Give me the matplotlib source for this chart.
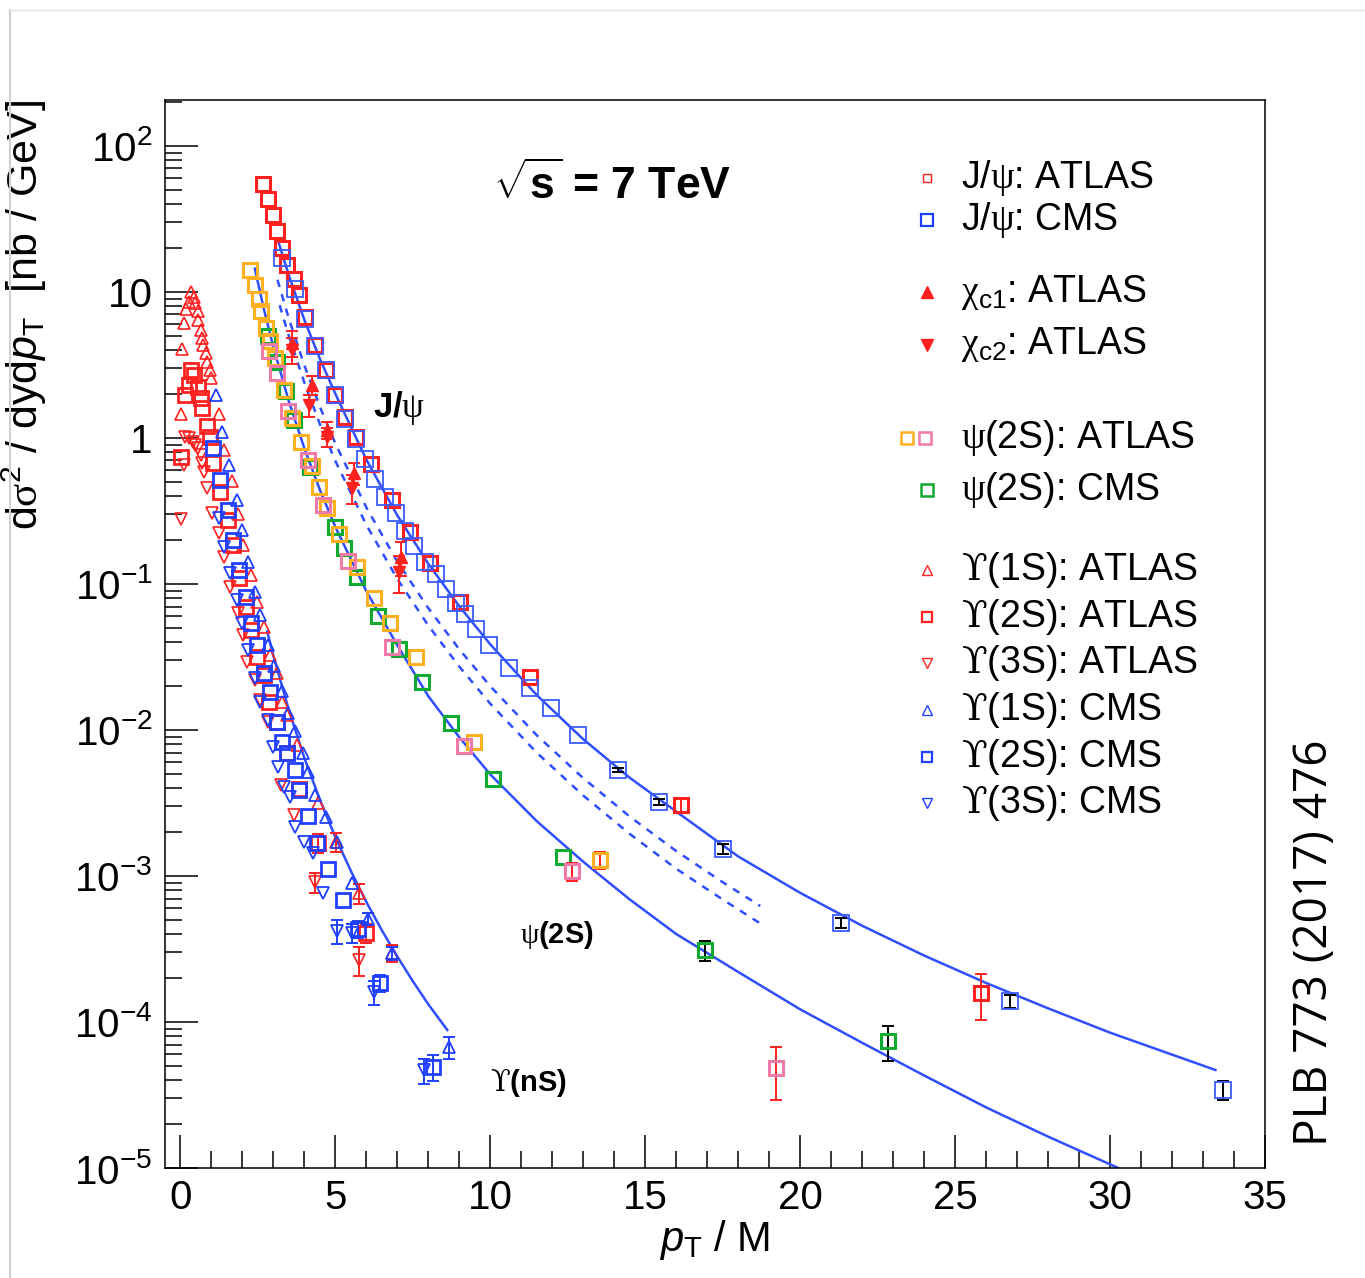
import numpy as np
import matplotlib
matplotlib.use("Agg")
import matplotlib.pyplot as plt
from matplotlib.ticker import FixedLocator, NullFormatter, FuncFormatter

plt.rcParams['font.family'] = ['Liberation Sans', 'DejaVu Sans']
plt.rcParams['mathtext.fontset'] = 'custom'
plt.rcParams['mathtext.rm'] = 'Liberation Sans'
plt.rcParams['mathtext.it'] = 'Liberation Sans:italic'
plt.rcParams['mathtext.bf'] = 'Liberation Sans:bold'
plt.rcParams['mathtext.sf'] = 'Liberation Serif'
plt.rcParams['mathtext.tt'] = 'DejaVu Serif'

# ---- data (x = pT/M, y = d2sigma/dy dpT [nb/GeV]) ----
jpsi_atlas_x = [2.65, 2.84, 3.00, 3.13, 3.29, 3.45, 3.65, 3.81, 4.03, 4.35, 4.68, 5.00, 5.32, 5.65, 6.16, 6.81, 7.42, 8.06, 9.03, 11.29, 16.16, 25.84]
jpsi_atlas_y = [55, 43.4, 33.7, 26.2, 20.0, 15.3, 12.3, 9.5, 6.7, 4.3, 2.9, 1.97, 1.39, 1.02, 0.66, 0.376, 0.227, 0.139, 0.075, 0.0231, 0.00306, 1.58e-4]
jpsi_atlas_err = [0]*20 + [3e-4, 5.5e-5]

jpsi_cms_x = [3.29, 3.71, 4.03, 4.35, 4.68, 5.00, 5.32, 5.65, 5.97, 6.29, 6.61, 6.97, 7.26, 7.55, 7.90, 8.23, 8.58, 8.90, 9.19, 9.55, 9.97, 10.61, 11.29, 11.97, 12.84, 14.13, 15.45, 17.52, 21.32, 26.77, 33.65]
jpsi_cms_y = [17.1, 10.5, 6.53, 4.27, 2.92, 1.97, 1.35, 0.984, 0.718, 0.524, 0.394, 0.306, 0.231, 0.182, 0.141, 0.117, 0.0924, 0.0741, 0.0623, 0.0492, 0.0382, 0.0266, 0.0194, 0.0142, 0.00924, 0.00532, 0.00321, 0.00153, 4.77e-4, 1.39e-4, 3.42e-5]
jpsi_cms_err = [0]*25 + [2e-4, 1.5e-4, 1.2e-4, 4e-5, 1.5e-5, 5e-6]

chic1_x = [3.61, 4.23, 4.74, 5.61, 7.13]
chic1_y = [4.48, 2.31, 1.13, 0.576, 0.153]
chic1_err = [0.9, 0.35, 0.15, 0.1, 0.04]
chic2_x = [3.61, 4.16, 4.74, 5.55, 7.06]
chic2_y = [4.01, 1.68, 1.02, 0.455, 0.121]
chic2_err = [0.8, 0.3, 0.15, 0.1, 0.035]

psi2s_atlas_a_x = [2.23, 2.39, 2.52, 2.61, 2.77, 2.90, 3.06, 3.35, 3.61, 3.90, 4.23, 4.48, 4.74, 5.13, 5.71, 6.23, 6.77, 7.61, 9.48, 13.55]
psi2s_atlas_a_y = [14.2, 11.2, 8.95, 7.41, 5.67, 4.62, 3.53, 2.13, 1.37, 0.939, 0.643, 0.462, 0.332, 0.220, 0.131, 0.0802, 0.0541, 0.0316, 0.00828, 1.29e-3]
psi2s_atlas_a_err = [0]*19 + [1.8e-4]
psi2s_atlas_b_x = [2.87, 3.13, 3.48, 4.10, 4.61, 5.39, 6.84, 9.16, 12.65, 19.23]
psi2s_atlas_b_y = [3.94, 2.79, 1.53, 0.707, 0.348, 0.144, 0.0370, 0.00777, 1.08e-3, 4.84e-5]
psi2s_atlas_b_err = [0]*8 + [1.5e-4, 1.9e-5]
psi2s_cms_x = [2.84, 3.13, 3.39, 3.65, 4.19, 5.00, 5.29, 5.71, 6.39, 7.06, 7.81, 8.74, 10.10, 12.35, 16.94, 22.84]
psi2s_cms_y = [5.0, 3.32, 2.10, 1.33, 0.633, 0.245, 0.176, 0.112, 0.0604, 0.0359, 0.0213, 0.0112, 0.00462, 0.00135, 3.11e-4, 7.41e-5]
psi2s_cms_err = [0]*14 + [5e-5, 2e-5]

ups1_atlas_x = [0.03, 0.06, 0.10, 0.19, 0.26, 0.35, 0.42, 0.48, 0.55, 0.58, 0.65, 0.71, 0.74, 0.81, 0.87, 0.94, 1.00, 1.23, 1.42, 1.65, 1.84, 2.03, 2.26, 2.48, 2.68, 2.90, 3.13, 3.29, 3.45, 3.77, 4.45, 5.03, 5.77, 6.84]
ups1_atlas_y = [1.46, 4.07, 6.13, 7.65, 8.55, 10.0, 9.24, 8.41, 7.41, 6.43, 5.49, 4.84, 4.34, 3.82, 3.32, 2.92, 2.58, 1.46, 0.828, 0.507, 0.302, 0.185, 0.115, 0.0753, 0.0507, 0.0327, 0.0246, 0.0156, 0.0127, 0.00789, 0.00316, 0.00171, 7.65e-4, 2.97e-4]
ups1_atlas_err = [0]*31 + [2.5e-4, 1.2e-4, 4e-5]
ups2_atlas_x = [0.03, 0.13, 0.26, 0.35, 0.42, 0.55, 0.65, 0.71, 0.87, 0.94, 1.06, 1.29, 1.52, 1.68, 1.90, 2.10, 2.29, 2.48, 2.68, 2.87, 3.10, 3.45, 3.81, 4.45, 6.00]
ups2_atlas_y = [0.741, 1.97, 2.31, 2.92, 2.70, 2.23, 1.88, 1.60, 1.21, 1.02, 0.674, 0.427, 0.274, 0.185, 0.110, 0.0695, 0.0484, 0.0316, 0.0238, 0.0156, 0.0113, 0.00696, 0.00394, 0.00168, 4.07e-4]
ups2_atlas_err = [0]*23 + [2.5e-4, 6e-5]
ups3_atlas_x = [0.03, 0.10, 0.16, 0.26, 0.39, 0.48, 0.55, 0.65, 0.71, 0.77, 0.87, 1.03, 1.23, 1.42, 1.61, 1.84, 2.03, 2.16, 2.42, 2.58, 2.84, 3.23, 3.65, 4.35, 5.77]
ups3_atlas_y = [0.279, 0.653, 1.02, 1.0, 0.939, 0.895, 0.854, 0.765, 0.674, 0.585, 0.455, 0.306, 0.224, 0.153, 0.0953, 0.0633, 0.0448, 0.0292, 0.022, 0.016, 0.0113, 0.0042, 0.00262, 9.1e-4, 2.66e-4]
ups3_atlas_err = [0]*23 + [1.4e-4, 6e-5]

ups1_cms_x = [1.13, 1.35, 1.55, 1.81, 2.00, 2.19, 2.42, 2.58, 2.81, 3.03, 3.29, 3.48, 3.68, 3.94, 4.13, 4.35, 4.71, 5.06, 5.55, 6.06, 6.84, 8.68]
ups1_cms_y = [1.97, 1.10, 0.653, 0.376, 0.234, 0.141, 0.0881, 0.0613, 0.0382, 0.0274, 0.0185, 0.0131, 0.00984, 0.00696, 0.00515, 0.00359, 0.00254, 0.00171, 8.96e-4, 5.08e-4, 2.97e-4, 6.74e-5]
ups1_cms_err = [0]*19 + [5e-5, 3e-5, 1.2e-5]
ups2_cms_x = [1.06, 1.29, 1.52, 1.68, 1.90, 2.10, 2.26, 2.48, 2.68, 2.90, 3.10, 3.29, 3.45, 3.71, 3.84, 4.13, 4.42, 4.77, 5.23, 5.74, 6.45, 8.16]
ups2_cms_y = [0.854, 0.515, 0.321, 0.200, 0.125, 0.0815, 0.0541, 0.0382, 0.0246, 0.0182, 0.0113, 0.00828, 0.00696, 0.00532, 0.00388, 0.00258, 0.00168, 0.00112, 6.85e-4, 4.34e-4, 1.85e-4, 4.92e-5]
ups2_cms_err = [0]*19 + [6e-5, 2.5e-5, 1e-5]
ups3_cms_x = [1.23, 1.42, 1.61, 1.81, 2.00, 2.19, 2.39, 2.58, 2.81, 3.00, 3.16, 3.35, 3.55, 3.71, 4.00, 4.29, 4.61, 5.06, 5.55, 6.23, 7.87]
ups3_cms_y = [0.283, 0.179, 0.119, 0.0777, 0.0541, 0.0353, 0.0227, 0.0156, 0.0117, 0.00765, 0.00558, 0.00407, 0.00348, 0.00217, 0.00171, 0.00144, 7.65e-4, 4.2e-4, 4.07e-4, 1.6e-4, 4.69e-5]
ups3_cms_err = [0]*17 + [8e-5, 6e-5, 3e-5, 9e-6]

# model curves
jpsi_curve_x = [3.16, 3.5, 4.0, 4.5, 5.0, 6.0, 7.0, 8.0, 9.0, 10.0, 11.5, 13.0, 14.5, 16.0, 18.0, 20.0, 22.0, 24.0, 26.0, 28.0, 30.0, 33.4]
jpsi_curve_y = [22.0, 12.9, 6.41, 3.47, 2.0, 0.708, 0.294, 0.137, 0.0702, 0.0385, 0.0173, 0.00863, 0.0047, 0.00276, 0.00136, 7.66e-4, 4.56e-4, 2.85e-4, 1.85e-4, 1.24e-4, 8.45e-5, 4.69e-5]
psi2s_curve_x = [2.4, 2.7, 3.0, 3.5, 4.0, 4.5, 5.0, 6.0, 7.0, 8.0, 9.0, 10.0, 11.5, 13.0, 14.5, 16.0, 18.0, 20.0, 22.0, 24.0, 26.0, 28.0, 30.5]
psi2s_curve_y = [14.4, 7.48, 4.17, 1.77, 0.845, 0.44, 0.245, 0.089, 0.0379, 0.017, 0.0089, 0.00495, 0.00237, 0.00125, 6.9e-4, 4.0e-4, 2.2e-4, 1.22e-4, 7.2e-5, 4.3e-5, 2.6e-5, 1.64e-5, 9.5e-6]
ups_curve_x = [2.8, 3.0, 3.5, 4.0, 4.5, 5.0, 5.5, 6.0, 6.5, 7.0, 7.5, 8.0, 8.61]
ups_curve_y = [0.0473, 0.0321, 0.0136, 0.00641, 0.00332, 0.00184, 0.00108, 6.62e-4, 4.24e-4, 2.8e-4, 1.9e-4, 1.32e-4, 8.81e-5]
chic1_curve_x = [3.13, 3.5, 4.0, 4.5, 5.0, 6.0, 7.0, 8.0, 9.0, 10.0, 11.5, 13.0, 14.5, 16.0, 17.5, 18.71]
chic1_curve_y = [12.1, 6.53, 3.13, 1.63, 0.912, 0.333, 0.142, 0.0681, 0.0356, 0.0199, 0.00918, 0.00467, 0.00255, 0.00148, 9.06e-4, 6.23e-4]
chic2_curve_x = [3.2, 3.5, 4.0, 4.5, 5.0, 6.0, 7.0, 8.0, 9.0, 10.0, 11.5, 13.0, 14.5, 16.0, 17.5, 18.71]
chic2_curve_y = [8.1, 4.96, 2.38, 1.24, 0.693, 0.253, 0.108, 0.0518, 0.0271, 0.0151, 0.00698, 0.00355, 0.00194, 0.00112, 6.89e-4, 4.73e-4]

x_major = [0, 5, 10, 15, 20, 25, 30, 35]
y_major = [1e-5, 1e-4, 1e-3, 1e-2, 1e-1, 1, 10, 100]

RED = '#ff2020'
BLUE = '#2040ff'
LBLUE = '#3a5cff'
ORANGE = '#ffb020'
PINK = '#f07aa8'
GREEN = '#10aa30'
CURVE = '#2f4fff'
UPS = r'$\mathtt{ϒ}$'

fig = plt.figure(figsize=(13.65, 12.78), dpi=100)
ax = fig.add_axes([165/1365, 1 - 1168/1278, 1100/1365, 1068/1278])
ax.set_yscale('log')
ax.set_xlim(-0.5, 35)
ax.set_ylim(1e-5, 206)


def draw(x, y, err, marker, color, ms, mew, ecolor, filled=False, z=3):
    x = np.array(x)
    y = np.array(y)
    err = np.array(err, dtype=float)
    m = err > 0
    if m.any():
        ax.errorbar(x[m], y[m], yerr=err[m], fmt='none', ecolor=ecolor,
                    elinewidth=1.4, capsize=4.5, capthick=1.4, zorder=z)
    ax.plot(x, y, ls='none', marker=marker, ms=ms, mec=color, mew=mew,
            mfc=color if filled else 'none', zorder=z + 0.1)


# curves
ax.plot(jpsi_curve_x, jpsi_curve_y, color=CURVE, lw=1.8, zorder=2)
ax.plot(psi2s_curve_x, psi2s_curve_y, color=CURVE, lw=1.8, zorder=2)
ax.plot(ups_curve_x, ups_curve_y, color=CURVE, lw=1.8, zorder=2)
ax.plot(chic1_curve_x, chic1_curve_y, color=CURVE, lw=1.8, ls=(0, (3, 3)), zorder=2)
ax.plot(chic2_curve_x, chic2_curve_y, color=CURVE, lw=1.8, ls=(0, (3, 3)), zorder=2)

# Upsilon
draw(ups1_atlas_x, ups1_atlas_y, ups1_atlas_err, '^', RED, 8, 1.2, RED)
draw(ups2_atlas_x, ups2_atlas_y, ups2_atlas_err, 's', RED, 9.5, 2.0, RED)
draw(ups3_atlas_x, ups3_atlas_y, ups3_atlas_err, 'v', RED, 8, 1.2, RED)
draw(ups1_cms_x, ups1_cms_y, ups1_cms_err, '^', BLUE, 8, 1.3, BLUE, z=4)
draw(ups2_cms_x, ups2_cms_y, ups2_cms_err, 's', BLUE, 9.5, 2.0, BLUE, z=4)
draw(ups3_cms_x, ups3_cms_y, ups3_cms_err, 'v', BLUE, 8, 1.3, BLUE, z=4)

# psi(2S)
draw(psi2s_cms_x, psi2s_cms_y, psi2s_cms_err, 's', GREEN, 10, 2.2, 'black')
draw(psi2s_atlas_a_x, psi2s_atlas_a_y, psi2s_atlas_a_err, 's', ORANGE, 10, 2.2, RED, z=4)
draw(psi2s_atlas_b_x, psi2s_atlas_b_y, psi2s_atlas_b_err, 's', PINK, 10, 2.2, RED, z=4)

# chi_c
draw(chic1_x, chic1_y, chic1_err, '^', RED, 9, 1, RED, filled=True)
draw(chic2_x, chic2_y, chic2_err, 'v', RED, 9, 1, RED, filled=True)

# J/psi
draw(jpsi_atlas_x, jpsi_atlas_y, jpsi_atlas_err, 's', RED, 10, 2.2, RED)
draw(jpsi_cms_x, jpsi_cms_y, jpsi_cms_err, 's', LBLUE, 11.5, 1.3, 'black', z=4)

# axes styling
for s in ax.spines.values():
    s.set_linewidth(1.1)
ax.xaxis.set_major_locator(FixedLocator(x_major))
ax.xaxis.set_minor_locator(FixedLocator([v for v in range(0, 36) if v % 5]))
ax.yaxis.set_major_locator(FixedLocator(y_major))
ax.yaxis.set_minor_locator(FixedLocator([k * d for d in y_major[:-1] for k in range(2, 10)] + [200]))
ax.yaxis.set_minor_formatter(NullFormatter())


def yfmt(v, pos):
    e = int(round(np.log10(v)))
    if e == 0:
        return '1'
    if e == 1:
        return '10'
    return r'$10^{%d}$' % e


ax.yaxis.set_major_formatter(FuncFormatter(yfmt))
ax.tick_params(which='both', direction='in', top=False, right=False, width=1.1)
ax.tick_params(which='major', length=24, labelsize=29)
ax.tick_params(which='minor', length=12)
ax.tick_params(axis='y', which='major', pad=9)
ax.tick_params(axis='x', which='major', pad=8)

ax.set_xlabel(r'$p_{\mathrm{T}}$ / M', fontsize=30)
ax.xaxis.set_label_coords(0.5, -0.047)
ax.set_ylabel(r'd$\mathsf{\sigma}^{2}$ / dyd$p_{\mathrm{T}}$  [nb / GeV]', fontsize=31, loc='top')
ax.yaxis.set_label_coords(-0.105, 1.0)

# annotations
ax.text(0.4064, 0.92, r'$\sqrt{\mathbf{s}}$ = 7 TeV', transform=ax.transAxes,
        fontsize=32, fontweight='bold', ha='center', va='center')
ax.text(0.1891, 0.7116, r'J/$\mathsf{\psi}$', transform=ax.transAxes,
        fontsize=25, fontweight='bold', ha='left', va='center')
ax.text(0.3227, 0.218, r'$\mathsf{\psi}$(2S)', transform=ax.transAxes,
        fontsize=21, fontweight='bold', ha='left', va='center')
ax.text(0.2955, 0.0796, UPS + '(nS)', transform=ax.transAxes,
        fontsize=21, fontweight='bold', ha='left', va='center')

# legend (manual, ROOT style)
leg_rows = [
    (0.927, [('s', RED, 5.5, 1.0, False, 0.6927)], r'J/$\mathsf{\psi}$: ATLAS'),
    (0.8876, [('s', BLUE, 8, 1.6, False, 0.6927)], r'J/$\mathsf{\psi}$: CMS'),
    (0.8202, [('^', RED, 8, 1.0, True, 0.6927)], r'$\mathsf{\chi}_{\mathrm{c1}}$: ATLAS'),
    (0.7706, [('v', RED, 8, 1.0, True, 0.6927)], r'$\mathsf{\chi}_{\mathrm{c2}}$: ATLAS'),
    (0.6835, [('s', ORANGE, 8, 1.8, False, 0.6745), ('s', PINK, 8, 1.8, False, 0.6909)], r'$\mathsf{\psi}$(2S): ATLAS'),
    (0.6348, [('s', GREEN, 8, 1.8, False, 0.6927)], r'$\mathsf{\psi}$(2S): CMS'),
    (0.5599, [('^', RED, 7, 1.0, False, 0.6927)], UPS + '(1S): ATLAS'),
    (0.5159, [('s', RED, 7, 1.6, False, 0.6927)], UPS + '(2S): ATLAS'),
    (0.4728, [('v', RED, 7, 1.0, False, 0.6927)], UPS + '(3S): ATLAS'),
    (0.4288, [('^', BLUE, 7, 1.0, False, 0.6927)], UPS + '(1S): CMS'),
    (0.3848, [('s', BLUE, 7, 1.6, False, 0.6927)], UPS + '(2S): CMS'),
    (0.3418, [('v', BLUE, 7, 1.0, False, 0.6927)], UPS + '(3S): CMS'),
]
for yy, marks, label in leg_rows:
    for mk, col, ms, mew, filled, xx in marks:
        ax.plot([xx], [yy], transform=ax.transAxes, ls='none', marker=mk, ms=ms,
                mec=col, mew=mew, mfc=col if filled else 'none', clip_on=False)
    ax.text(0.7235, yy, label, transform=ax.transAxes, fontsize=27, ha='left', va='center')

# journal reference on the right
fig.text(1315/1365, 1 - 943/1278, 'PLB 773 (2017) 476', rotation=90, fontsize=33,
         family=['Open Sans', 'DejaVu Sans'], ha='center', va='center')

# slide border
fig.add_artist(plt.Line2D([10/1365, 10/1365], [0, 1 - 10/1278], color='#d0d0d0', lw=1.5))
fig.add_artist(plt.Line2D([10/1365, 1], [1 - 10/1278, 1 - 10/1278], color='#e0e0e0', lw=1.0))

fig.savefig('out.png', dpi=100)
